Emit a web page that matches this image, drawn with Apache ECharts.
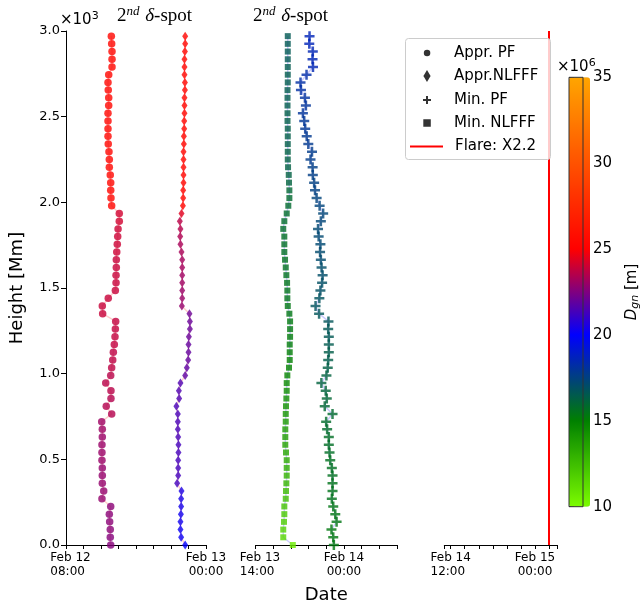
<!DOCTYPE html>
<html><head><meta charset="utf-8">
<script src="https://cdn.jsdelivr.net/npm/echarts@6/dist/echarts.min.js"></script>
<style>html,body{margin:0;padding:0;background:#fff}#c{width:642px;height:609px}</style>
</head><body><div id="c"></div>
<script>
// Heights in Mm, listed from top (2970) to bottom (0)
const heights = [2970,2925,2880,2835,2790,2745,2700,2655,2610,2565,2520,2475,2430,2385,2340,2295,2250,2205,2160,2115,2070,2025,1980,1935,1890,1845,1800,1755,1710,1665,1620,1575,1530,1485,1440,1395,1350,1305,1260,1215,1170,1125,1080,1035,990,945,900,855,810,765,720,675,630,585,540,495,450,405,360,315,270,225,180,135,90,45,0];

// Times: hours since 2011-02-12 00:00 UT
const apprPF_t = [13.18,13.22,13.26,13.26,13.26,12.88,12.80,12.83,12.88,12.88,12.80,12.80,12.80,12.80,12.83,12.91,12.95,12.95,13.06,13.11,13.11,13.14,13.22,14.09,14.09,13.95,13.91,13.86,13.80,13.75,13.75,13.72,13.72,13.64,12.83,12.15,12.19,13.68,13.64,13.60,13.52,13.41,13.34,13.22,13.11,12.54,13.14,13.14,12.60,13.22,12.08,12.15,12.15,12.11,12.11,12.11,12.15,12.15,12.15,12.31,12.11,13.11,12.95,12.99,13.06,13.06,13.11];
const apprNLFFF_t = [21.62,21.62,21.59,21.54,21.54,21.54,21.59,21.59,21.54,21.54,21.54,21.51,21.51,21.47,21.47,21.43,21.43,21.43,21.43,21.43,21.39,21.39,21.36,21.20,21.01,21.08,21.05,21.08,21.20,21.28,21.28,21.28,21.28,21.28,21.28,21.24,22.11,22.16,22.16,22.04,22.00,22.00,21.96,21.81,21.62,21.08,20.90,20.93,20.62,20.78,20.78,20.78,20.82,20.85,20.85,20.82,20.82,20.82,20.70,21.20,21.16,21.16,21.13,21.08,21.08,21.16,21.62];
const minPF_t = [44.11,44.08,44.48,44.45,44.50,43.77,43.09,43.14,43.59,43.70,43.36,43.51,43.62,43.79,43.97,44.39,44.22,44.46,44.48,44.63,44.73,44.91,45.25,45.65,45.39,45.07,45.14,45.34,45.30,45.39,45.47,45.59,45.53,45.34,45.22,44.79,45.19,46.25,46.22,46.29,46.29,46.29,46.22,46.17,46.02,45.45,45.94,46.06,45.83,46.71,45.99,46.10,46.29,46.29,46.37,46.45,46.63,46.71,46.71,46.71,46.63,46.79,47.02,47.17,46.59,46.79,46.86];
const minNLFFF_t = [41.65,41.65,41.65,41.65,41.65,41.65,41.65,41.62,41.62,41.62,41.62,41.62,41.65,41.65,41.65,41.65,41.65,41.68,41.76,41.79,41.83,41.83,41.71,41.53,41.26,41.14,41.26,41.26,41.26,41.34,41.42,41.49,41.57,41.60,41.60,41.65,41.83,41.91,41.91,41.91,41.87,41.87,41.87,41.79,41.60,41.53,41.53,41.49,41.45,41.42,41.42,41.37,41.37,41.37,41.45,41.53,41.53,41.53,41.49,41.45,41.42,41.26,41.26,41.22,41.14,41.14,42.22];

// D_gn values (x10^6 m)
const apprPF_D = [25.3,25.3,25.3,25.3,25.3,25.3,25.3,25.3,25.3,25.3,25.3,25.3,25.3,25.3,25.3,25.3,25.3,25.3,25.3,25.3,25.3,25.3,25.3,24.1,24.1,24.0,24.0,24.0,24.0,23.9,23.9,23.9,23.9,23.9,23.9,23.9,23.9,23.8,23.8,23.8,23.8,23.7,23.7,23.7,23.6,23.6,23.6,23.5,23.5,23.5,23.1,23.1,23.0,23.0,23.0,23.0,22.9,22.9,22.9,22.9,22.9,22.7,22.7,22.7,22.7,22.6,22.6];
const apprNLFFF_D = [25.3,25.3,25.3,25.3,25.3,25.3,25.3,25.3,25.3,25.3,25.3,25.3,25.3,25.3,25.3,25.3,25.3,25.3,25.3,25.3,25.3,25.3,25.3,24.4,23.6,23.5,23.4,23.3,23.3,23.2,23.2,23.1,23.1,23.0,23.0,22.9,22.1,22.0,22.0,22.0,21.9,21.9,21.9,21.8,21.8,21.5,21.5,21.5,21.4,21.4,21.4,21.4,21.4,21.3,21.3,21.3,21.3,21.3,21.3,20.5,20.4,20.4,20.3,20.3,20.2,20.2,20.0];
const minPF_D = [18.6,18.6,18.5,18.5,18.5,18.3,18.2,18.2,18.1,18.0,18.0,17.9,17.9,17.8,17.8,17.7,17.7,17.6,17.6,17.5,17.5,17.4,17.4,17.3,17.3,17.2,17.2,17.2,17.1,17.1,17.0,17.0,16.9,16.9,16.8,16.8,16.7,16.7,16.6,16.6,16.5,16.4,16.4,16.3,16.2,16.2,16.1,16.0,16.0,15.9,15.8,15.8,15.7,15.7,15.7,15.6,15.6,15.6,15.5,15.5,15.5,15.4,15.4,15.4,15.3,15.3,15.3];
const minNLFFF_D = [16.6,16.6,16.6,16.6,16.5,16.5,16.5,16.5,16.5,16.5,16.4,16.4,16.4,16.4,16.4,16.3,16.3,16.3,16.3,16.2,16.0,15.9,15.9,15.8,15.8,15.8,15.7,15.7,15.7,15.6,15.6,15.6,15.5,15.5,15.5,15.4,15.4,15.3,15.3,15.2,15.2,15.1,15.0,14.9,14.8,14.6,14.5,14.4,14.3,14.2,14.0,13.9,13.8,13.6,13.5,13.3,13.2,13.0,12.9,12.7,12.5,12.3,12.1,11.9,11.7,11.5,10.6];

const flareTime = 73.93; // Feb 15 01:56 UT
const flareName = 'Flare: X2.2';

const seriesNames = ['Appr. PF', 'Appr.NLFFF', 'Min. PF', 'Min. NLFFF'];
// x tick labels: [value, line1, line2, style]
const xTicks1 = [[8, 'Feb 12', '08:00', 'L'], [24, 'Feb 13', '00:00', 'C']];
const xTicks2 = [[38, 'Feb 13', '14:00', 'L'], [48, 'Feb 14', '00:00', 'C']];
const xTicks3 = [[60, 'Feb 14', '12:00', 'M'], [72, 'Feb 15', '00:00', 'C']];
const cmapColors = ['#7cfc00', '#008000', '#0000ff', '#ff0000', '#ff5200', '#ffa500'];

const FONT = 'DejaVu Sans';
const SERIF = 'Liberation Serif';
const pts = (t, D) => t.map((v, i) => [v, heights[i], D[i]]);
const lpts = (t) => t.map((v, i) => [v, heights[i]]);
const fmtX = (ticks) => (v) => {
  const k = Math.round(v * 100) / 100;
  const e = ticks.find((d) => d[0] === k);
  if (!e) return '';
  return '{' + e[3] + '|' + e[1] + '}\n{' + e[3] + '|' + e[2] + '}';
};
const xRich = {
  L: {fontSize: 12, color: '#000', fontFamily: FONT, lineHeight: 14, align: 'left', padding: [0, 0, 0, 9]},
  M: {fontSize: 12, color: '#000', fontFamily: FONT, lineHeight: 14, align: 'left'},
  C: {fontSize: 12, color: '#000', fontFamily: FONT, lineHeight: 14, align: 'center'}
};

const chart = echarts.init(document.getElementById('c'), null, {renderer: 'canvas'});

const baseX = {
  type: 'value',
  axisLine: {show: true, onZero: false, lineStyle: {color: '#000', width: 1}},
  axisTick: {show: true, length: 4, lineStyle: {color: '#000', width: 1}},
  splitLine: {show: false},
  axisLabel: {fontSize: 12, color: '#000', fontFamily: FONT, lineHeight: 14, margin: 6, showMinLabel: true, showMaxLabel: true, hideOverlap: false, rich: xRich}
};
const hiddenY = (g) => ({gridIndex: g, type: 'value', min: 0, max: 3000, show: false});

const plusPath = 'path://M3.75,0H6.25V3.75H10V6.25H6.25V10H3.75V6.25H0V3.75H3.75Z';
const thinDiamond = 'path://M3,0L6,5L3,10L0,5Z';
const squarePath = 'path://M0,0H10V10H0Z';

const legendText = {fontSize: 15, color: '#000', fontFamily: FONT};
function mkLegend(name, icon, top, itemWidth, itemHeight, left, color, extra) {
  return Object.assign({
    data: [{name: name, icon: icon, itemStyle: {color: color}}],
    left: left, top: top, itemWidth: itemWidth, itemHeight: itemHeight,
    padding: 0, selectedMode: false, z: 10, symbolKeepAspect: true,
    textStyle: legendText
  }, extra || {});
}
const titleRich = {
  n: {fontFamily: SERIF, fontSize: 19, fontWeight: 'normal', color: '#000', lineHeight: 22},
  s: {fontFamily: SERIF, fontSize: 13, fontWeight: 'normal', fontStyle: 'italic', color: '#000', verticalAlign: 'top', lineHeight: 14},
  d: {fontFamily: SERIF, fontSize: 19, fontWeight: 'normal', fontStyle: 'italic', color: '#000', lineHeight: 22}
};
const expRich = {
  a: {fontFamily: FONT, fontSize: 15, fontWeight: 'normal', color: '#000', lineHeight: 18},
  b: {fontFamily: FONT, fontSize: 11, fontWeight: 'normal', color: '#000', verticalAlign: 'top', lineHeight: 12}
};

const option = {
  animation: false,
  backgroundColor: '#fff',
  textStyle: {fontFamily: FONT},
  title: [
    {text: '{n|2}{s|nd} {d|δ}{n|-spot}', left: 117, top: 5, padding: 0, textStyle: {fontWeight: 'normal', rich: titleRich}},
    {text: '{n|2}{s|nd} {d|δ}{n|-spot}', left: 253, top: 5, padding: 0, textStyle: {fontWeight: 'normal', rich: titleRich}},
    {text: '{a|×10}{b|3}', left: 60, top: 11, padding: 0, textStyle: {fontWeight: 'normal', rich: expRich}},
    {text: '{a|×10}{b|6}', left: 557, top: 58, padding: 0, textStyle: {fontWeight: 'normal', rich: expRich}}
  ],
  grid: [
    {left: 66, top: 31, width: 140, height: 514},
    {left: 255.5, top: 31, width: 141.5, height: 514},
    {left: 444.3, top: 31, width: 113, height: 514},
    {left: 569, top: 77.3, width: 21, height: 429.4, show: true, borderColor: '#333', borderWidth: 1, backgroundColor: 'transparent', z: 5}
  ],
  xAxis: [
    Object.assign({}, baseX, {gridIndex: 0, min: 8, max: 24, interval: 2,
      axisLabel: Object.assign({}, baseX.axisLabel, {formatter: fmtX(xTicks1)})}),
    Object.assign({}, baseX, {gridIndex: 1, min: 38, max: 54, interval: 2,
      name: 'Date', nameLocation: 'middle', nameGap: 41,
      nameTextStyle: {fontSize: 18, color: '#000', fontFamily: FONT},
      axisLabel: Object.assign({}, baseX.axisLabel, {formatter: fmtX(xTicks2)})}),
    Object.assign({}, baseX, {gridIndex: 2, min: 59.09, max: 75.17, splitNumber: 8,
      axisLabel: Object.assign({}, baseX.axisLabel, {formatter: fmtX(xTicks3)})}),
    {gridIndex: 3, type: 'value', min: 0, max: 1, show: false}
  ],
  yAxis: [
    {gridIndex: 0, type: 'value', min: 0, max: 3000, interval: 500,
     axisLine: {show: true, lineStyle: {color: '#000', width: 1}},
     axisTick: {show: true, length: 5, lineStyle: {color: '#000'}},
     splitLine: {show: false},
     axisLabel: {fontSize: 13, color: '#000', fontFamily: FONT, margin: 6,
                 formatter: (v) => (v / 1000).toFixed(1)},
     name: 'Height [Mm]', nameLocation: 'middle', nameGap: 40,
     nameTextStyle: {fontSize: 18, color: '#000', fontFamily: FONT}},
    hiddenY(1), hiddenY(2),
    {gridIndex: 3, type: 'value', min: 10, max: 35, interval: 5, position: 'right',
     axisLine: {show: false},
     axisTick: {show: true, length: 5, lineStyle: {color: '#333'}},
     splitLine: {show: false},
     axisLabel: {fontSize: 15, color: '#000', fontFamily: FONT, margin: 10},
     name: '{d|D}{g|gn} [m]', nameLocation: 'middle', nameRotate: 90, nameGap: 41,
     nameTextStyle: {fontSize: 15, color: '#000', fontFamily: FONT,
       rich: {d: {fontSize: 15, fontStyle: 'italic', fontFamily: FONT, color: '#000'},
              g: {fontSize: 11, fontStyle: 'italic', fontFamily: FONT, color: '#000', verticalAlign: 'bottom', padding: [6, 0, 0, 0]}}}}
  ],
  visualMap: {
    type: 'continuous', min: 10, max: 35, dimension: 2, seriesIndex: [4, 5, 6, 7],
    inRange: {color: cmapColors},
    left: 569, top: 77.3, itemWidth: 21, itemHeight: 429.4, padding: 0,
    calculable: false, showLabel: false, text: null, hoverLink: false, z: 1
  },
  legend: [
    mkLegend(seriesNames[0], 'circle', 45.5, 44, 6.5, 423.8, '#000'),
    mkLegend(seriesNames[1], thinDiamond, 68.5, 44, 12, 423.4, '#000'),
    mkLegend(seriesNames[2], plusPath, 92.5, 44, 8, 423, '#000'),
    mkLegend(seriesNames[3], squarePath, 115.5, 44, 7.5, 423.3, '#000'),
    mkLegend(flareName, 'rect', 139, 33, 2, 410, '#ff0000', {textStyle: Object.assign({}, legendText, {padding: [0, 0, 0, 7]})})
  ],
  graphic: [
    {type: 'rect', left: 405, top: 38, z: 6, silent: true,
     shape: {width: 145, height: 121, r: 3},
     style: {fill: 'rgba(255,255,255,0.8)', stroke: '#cccccc', lineWidth: 1}}
  ],
  series: [
    {name: 'l0', type: 'line', xAxisIndex: 0, yAxisIndex: 0, data: lpts(apprPF_t), symbol: 'none', silent: true, z: 1,
     lineStyle: {color: 'rgba(255,0,0,0.2)', width: 1.5}},
    {name: 'l1', type: 'line', xAxisIndex: 0, yAxisIndex: 0, data: lpts(apprNLFFF_t), symbol: 'none', silent: true, z: 1,
     lineStyle: {color: 'rgba(255,0,0,0.2)', width: 1.5}},
    {name: 'l2', type: 'line', xAxisIndex: 1, yAxisIndex: 1, data: lpts(minPF_t), symbol: 'none', silent: true, z: 1,
     lineStyle: {color: 'rgba(0,0,255,0.2)', width: 1.5}},
    {name: 'l3', type: 'line', xAxisIndex: 1, yAxisIndex: 1, data: lpts(minNLFFF_t), symbol: 'none', silent: true, z: 1,
     lineStyle: {color: 'rgba(0,0,255,0.2)', width: 1.5}},
    {name: seriesNames[0], type: 'scatter', xAxisIndex: 0, yAxisIndex: 0, data: pts(apprPF_t, apprPF_D),
     symbol: 'circle', symbolSize: 7.5, z: 3},
    {name: seriesNames[1], type: 'scatter', xAxisIndex: 0, yAxisIndex: 0, data: pts(apprNLFFF_t, apprNLFFF_D),
     symbol: thinDiamond, symbolSize: [6, 9], z: 3},
    {name: seriesNames[2], type: 'scatter', xAxisIndex: 1, yAxisIndex: 1, data: pts(minPF_t, minPF_D),
     symbol: plusPath, symbolSize: 10, z: 3},
    {name: seriesNames[3], type: 'scatter', xAxisIndex: 1, yAxisIndex: 1, data: pts(minNLFFF_t, minNLFFF_D),
     symbol: 'rect', symbolSize: 6, z: 3},
    {name: flareName, type: 'line', xAxisIndex: 2, yAxisIndex: 2, data: [], itemStyle: {color: '#ff0000'},
     markLine: {silent: true, symbol: ['none', 'none'], label: {show: false},
       lineStyle: {color: '#ff0000', width: 2, type: 'solid'}, data: [{xAxis: flareTime}]}}
  ]
};
chart.setOption(option);
</script>
</body></html>
